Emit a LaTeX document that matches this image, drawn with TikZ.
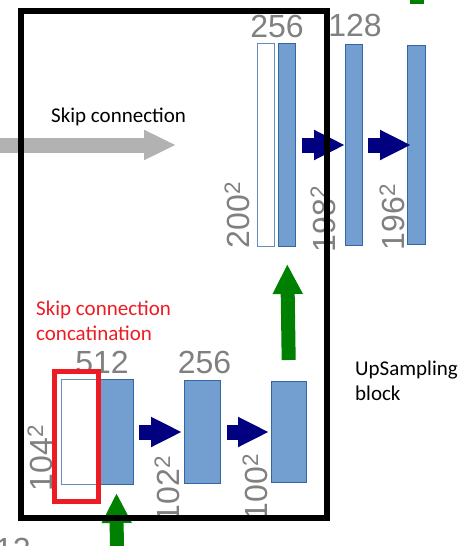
\documentclass[tikz,border=0pt]{standalone}
\usepackage{fontspec}
\setmainfont{Carlito}
\newfontfamily\numfont{Liberation Sans}
\usetikzlibrary{positioning}
\usetikzlibrary{arrows.meta}
\definecolor{barfillc}{HTML}{729FCF}
\definecolor{barlinec}{HTML}{3465A4}
\definecolor{convc}{HTML}{000080}
\definecolor{upc}{HTML}{008000}
\definecolor{skipc}{HTML}{B2B2B2}
\definecolor{sizec}{HTML}{808080}
\definecolor{concatc}{HTML}{ED1C24}

\begin{document}
\begin{tikzpicture}[x=1pt,y=-1pt,
  bar/.style={anchor=south,draw=barlinec,fill=barfillc,line width=1pt,shape=rectangle,inner sep=0pt},
  catbar/.style={bar,fill=white,draw=barlinec!75},
  dimlabel/.style={text=sizec,inner sep=0pt,font=\numfont\fontsize{32}{36}\selectfont},
  sidelabel/.style={dimlabel,rotate=90},
  convarrow/.style={convc,line width=15pt,-{Triangle[length=31pt,width=28pt]}},
  uparrow/.style={upc,line width=14pt,-{Triangle[length=30pt,width=28pt]}},
  skiparrow/.style={skipc,line width=15pt,-{Triangle[length=32pt,width=28pt]}},
  note/.style={inner sep=0pt,anchor=west,align=left,font=\fontsize{21}{25}\selectfont}]
\useasboundingbox (0,0) rectangle (476,546);
\clip (0,0) rectangle (476,546);

% upper level
\node[catbar,minimum width=17,minimum height=203] (b200cat) at (266,247) {};
\node[bar,minimum width=17,minimum height=203] (b256) at (287,247) {};
\node[bar,minimum width=17,minimum height=201] (b198) at (354,246) {};
\node[bar,minimum width=18,minimum height=199] (b196) at (416.5,245) {};

% lower level
\node[catbar,minimum width=35,minimum height=105] (b104cat) at (79,485) {};
\node[bar,minimum width=34,minimum height=105] (b104) at (116.5,485) {};
\node[bar,minimum width=36,minimum height=103] (b102) at (202.5,484) {};
\node[bar,minimum width=35,minimum height=101] (b100) at (289,483) {};

% channels and sizes
\node[dimlabel] (ch256top) at (277,26) {256};
\node[dimlabel] (ch128) at (355,25) {128};
\node[dimlabel] (ch512) at (102,362) {512};
\node[dimlabel] (ch256) at (204.5,362) {256};
\node[dimlabel] (chprev) at (13,549) {12};
\node[sidelabel] (s200) at (237,215) {200\textsuperscript{2}};
\node[sidelabel] (s198) at (323,219) {198\textsuperscript{2}};
\node[sidelabel] (s196) at (392,217) {196\textsuperscript{2}};
\node[sidelabel] (s104) at (40,458) {104\textsuperscript{2}};
\node[sidelabel] (s102) at (167,489) {102\textsuperscript{2}};
\node[sidelabel] (s100) at (255,487) {100\textsuperscript{2}};

% arrows
\draw[convarrow] ([xshift=6pt]b256.east) -- (b198.west);
\draw[convarrow] ([xshift=5pt]b198.east) -- ([xshift=4pt]b196.west);
\draw[convarrow] ([xshift=5pt]b104.east) -- ([xshift=-2pt]b102.west);
\draw[convarrow] ([xshift=6pt]b102.east) -- ([xshift=-2pt]b100.west);
\draw[uparrow,shorten <=21pt,shorten >=17pt] (b100.north) -- (b256.south);
\coordinate (upin) at (117,580);
\draw[uparrow,shorten >=8pt] (upin) -- (b104.south);
\coordinate (upout) at (416.5,-80);
\draw[uparrow,shorten <=41pt] (b196.north) -- (upout);
\coordinate (skipin) at (-20,145);
\coordinate (skipout) at (176,145);
\draw[skiparrow] (skipin) -- (skipout);

% texts
\node[note] (skiptext) at (51,116.5) {Skip connection};
\node[note,text=concatc] (cattext) at (36,320.5) {Skip connection\\concatination};
\node[note] (uptext) at (355,381) {UpSampling\\block};

% boxes
\node[draw=concatc,line width=5pt,shape=rectangle,minimum width=43.5,minimum height=130,inner sep=0pt] (catbox) at (76.25,436) {};
\node[draw=black,line width=6pt,shape=rectangle,minimum width=306,minimum height=507,inner sep=0pt] (upblock) at (174,264.5) {};

\end{tikzpicture}
\end{document}
